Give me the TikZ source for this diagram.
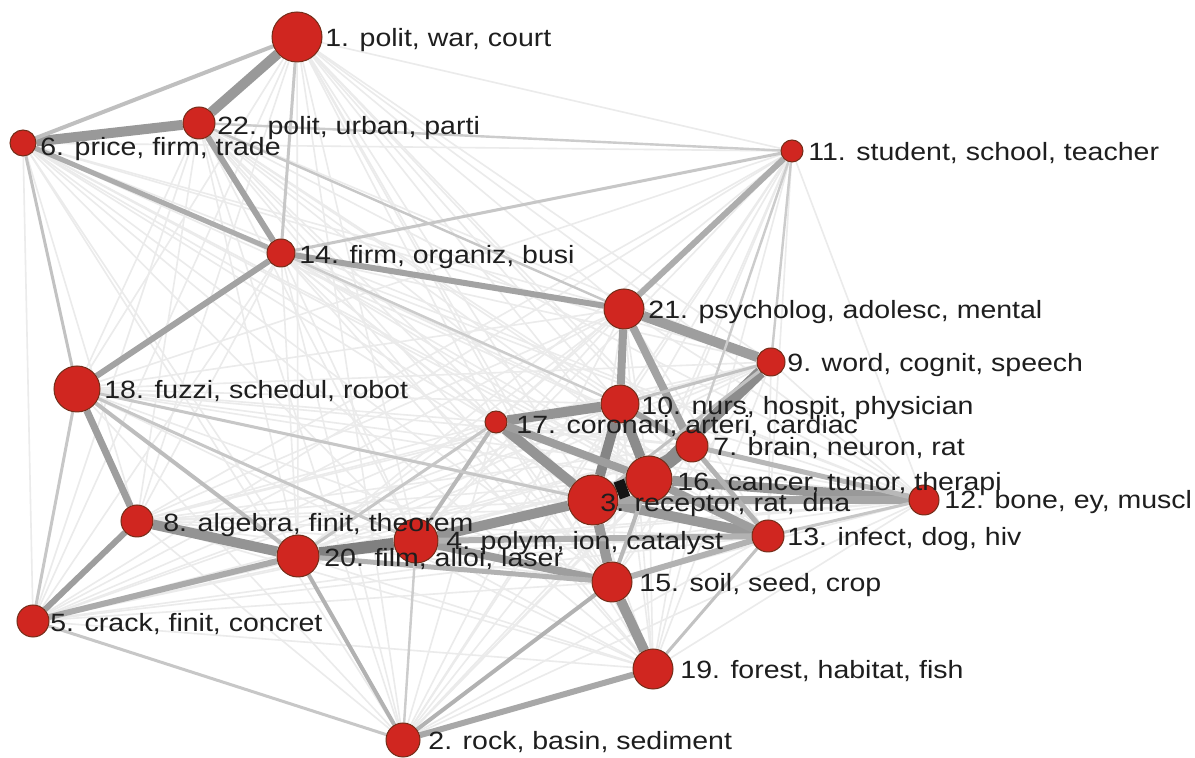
\documentclass[tikz,border=0pt]{standalone}
\usepackage{fontspec}
\setmainfont{Liberation Sans}[FakeStretch=1.14]
\definecolor{nodered}{RGB}{208,38,32}
\definecolor{nodeborder}{RGB}{115,45,25}
\definecolor{labeltext}{RGB}{30,30,30}
\pgfdeclarelayer{mesh}
\pgfdeclarelayer{edges}
\pgfsetlayers{mesh,edges,main}
\begin{document}
\begin{tikzpicture}[x=0.5pt,y=-0.5pt,
  nd/.style={circle,fill=nodered,draw=nodeborder,line width=0.5pt,inner sep=0pt,minimum size=#1pt},
  lbl/.style={anchor=base west,inner sep=0pt,text=labeltext,font=\fontsize{12.5}{15}\selectfont},
  meshline/.style={draw=black!8,line width=0.8pt},
  edgeline/.style={line cap=butt}]
\useasboundingbox (0,0) rectangle (1195,758);
% nodes
\node[nd=25] (n1) at (297,37) {};
\node[nd=17] (n2) at (403,740) {};
\node[nd=25] (n3) at (593,500) {};
\node[nd=22] (n4) at (416,541) {};
\node[nd=16] (n5) at (33,621) {};
\node[nd=13] (n6) at (23,143) {};
\node[nd=16] (n7) at (692,446) {};
\node[nd=16] (n8) at (137,521) {};
\node[nd=14] (n9) at (771,362) {};
\node[nd=19] (n10) at (620,404) {};
\node[nd=11] (n11) at (792,151) {};
\node[nd=15] (n12) at (924,500) {};
\node[nd=16] (n13) at (768,536) {};
\node[nd=14] (n14) at (281,253) {};
\node[nd=20] (n15) at (612,582) {};
\node[nd=23] (n16) at (649,479) {};
\node[nd=11] (n17) at (496,422) {};
\node[nd=23] (n18) at (77,389) {};
\node[nd=20] (n19) at (653,669) {};
\node[nd=21] (n20) at (298,556) {};
\node[nd=20] (n21) at (624,309) {};
\node[nd=16] (n22) at (199,123) {};
% faint mesh of all pairs
\begin{pgfonlayer}{mesh}
\fill[white] (0,0) rectangle (1195,758);
\foreach \i in {1,...,21}{
  \pgfmathtruncatemacro{\k}{\i+1}
  \foreach \j in {\k,...,22}{
    \draw[meshline] (n\i) -- (n\j);
  }
}
\end{pgfonlayer}
% weighted edges
\begin{pgfonlayer}{edges}
\foreach \a/\b/\w/\c in {
  1/22/5/40, 6/22/5/40, 14/22/3/36, 1/6/2/25, 1/14/1.5/22, 6/14/2.5/32,
  6/18/1.5/24, 14/21/3/36, 14/18/3/36, 22/21/1.2/22, 22/11/1.2/20,
  14/11/1.5/22, 21/11/3/32, 21/9/5/38, 21/10/4/38, 21/7/4/36,
  9/16/6/45, 7/16/5/45, 10/3/5/48, 10/16/5/45, 10/17/5/42, 17/3/5/42,
  17/16/4/38, 3/4/5/42, 4/20/6/50, 20/8/5/42, 8/18/3.5/38,
  8/5/3/38, 20/5/3/33, 20/2/2/30, 4/15/4/38, 20/15/2.5/30, 3/15/5/40,
  15/19/5/40, 2/15/2/30, 2/19/3/34, 2/5/1.5/22, 2/4/1.2/20, 3/13/5/40,
  16/13/4/38, 16/12/5/40, 3/12/4/35, 13/15/3/30, 4/13/3/30, 3/7/5/45,
  7/13/2.5/30, 7/12/2.5/28, 11/9/1.2/20, 11/7/1.2/20, 18/20/2/26,
  18/4/1.5/22, 5/18/1.5/22, 10/7/3/36, 17/4/2/28, 17/20/1.5/22,
  18/3/1.5/22, 12/13/1.5/22, 19/13/1.5/24, 15/16/2/28, 9/10/1.5/24,
  9/3/1.5/24, 14/10/1.2/20}
  \draw[edgeline,line width=\w pt,draw=black!\c] (n\a) -- (n\b);
\draw[edgeline,line width=9pt,draw=black!92] (n3) -- (n16);
\end{pgfonlayer}
% labels
\node[lbl] (l1) at (325,47) {1. polit, war, court};
\node[lbl] (l22) at (217,135) {22. polit, urban, parti};
\node[lbl] (l6) at (40,156) {6. price, firm, trade};
\node[lbl] (l11) at (808,161) {11. student, school, teacher};
\node[lbl] (l14) at (299,264) {14. firm, organiz, busi};
\node[lbl] (l21) at (648,319) {21. psycholog, adolesc, mental};
\node[lbl] (l9) at (787,372) {9. word, cognit, speech};
\node[lbl] (l18) at (104,399) {18. fuzzi, schedul, robot};
\node[lbl] (l10) at (641,415) {10. nurs, hospit, physician};
\node[lbl] (l17) at (516,434) {17. coronari, arteri, cardiac};
\node[lbl] (l7) at (713,456) {7. brain, neuron, rat};
\node[lbl] (l16) at (677,491) {16. cancer, tumor, therapi};
\node[lbl] (l3) at (600,512) {3. receptor, rat, dna};
\node[lbl] (l12) at (944,509) {12. bone, ey, muscl};
\node[lbl] (l8) at (163,532) {8. algebra, finit, theorem};
\node[lbl] (l4) at (446,550) {4. polym, ion, catalyst};
\node[lbl] (l13) at (787,546) {13. infect, dog, hiv};
\node[lbl] (l20) at (324,567) {20. film, alloi, laser};
\node[lbl] (l15) at (639,592) {15. soil, seed, crop};
\node[lbl] (l5) at (50,632) {5. crack, finit, concret};
\node[lbl] (l19) at (680,679) {19. forest, habitat, fish};
\node[lbl] (l2) at (428,750) {2. rock, basin, sediment};
\end{tikzpicture}
\end{document}
